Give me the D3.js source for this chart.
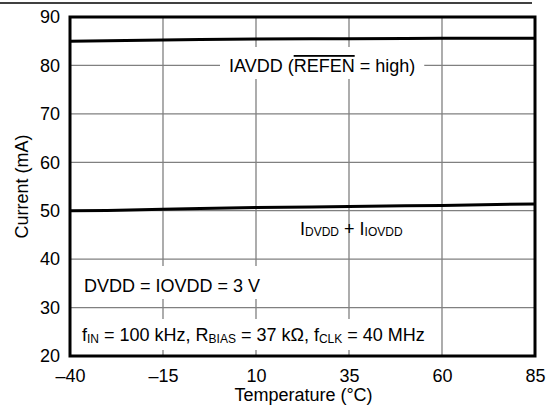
<!DOCTYPE html>
<html><head><meta charset="utf-8">
<script src="https://cdn.jsdelivr.net/npm/d3@7/dist/d3.min.js"></script>
<style>body{margin:0;background:#fff}svg{display:block;font-family:"Liberation Sans",Arial,sans-serif}</style>
</head><body>
<svg id="c" width="550" height="413"></svg>
<script>
const temps = [-40, -30, -15, -5, 10, 25, 35, 50, 60, 85];
const iavdd = [85.0, 85.1, 85.25, 85.35, 85.45, 85.5, 85.5, 85.55, 85.6, 85.6];
const idvdd = [50.0, 50.05, 50.3, 50.45, 50.65, 50.75, 50.85, 51.0, 51.1, 51.4];
const xTicks = [-40, -15, 10, 35, 60, 85];
const yTicks = [20, 30, 40, 50, 60, 70, 80, 90];
const xTitle = "Temperature (°C)";
const yTitle = "Current (mA)";

const svg = d3.select("#c");
const L = 70, R = 535, T = 17, B = 356;
const x = d3.scaleLinear().domain([-40, 85]).range([L, R]);
const y = d3.scaleLinear().domain([20, 90]).range([B, T]);
const fs = 18, sub = 12;

// top rule
svg.append("line").attr("x1", 0).attr("x2", 532).attr("y1", 3).attr("y2", 3)
  .attr("stroke", "#000").attr("stroke-width", 1.5);

// grid
const grid = svg.append("g");
grid.selectAll(".gx").data(xTicks.slice(1, -1)).join("line")
  .attr("x1", d => x(d)).attr("x2", d => x(d)).attr("y1", T).attr("y2", B)
  .attr("stroke", "#808080").attr("stroke-width", 1.3);
grid.selectAll(".gy").data(yTicks.slice(1, -1)).join("line")
  .attr("y1", d => y(d)).attr("y2", d => y(d)).attr("x1", L).attr("x2", R)
  .attr("stroke", "#808080").attr("stroke-width", 1.3);

// axes
const xAxis = d3.axisBottom(x).tickValues(xTicks).tickSize(0).tickPadding(13)
  .tickFormat(d => String(d).replace("-", "\u2013"));
const gx = svg.append("g").attr("transform", `translate(0,${B})`).call(xAxis);
const yAxis = d3.axisLeft(y).tickValues(yTicks).tickSize(0).tickPadding(10);
const gy = svg.append("g").attr("transform", `translate(${L},0)`).call(yAxis);
[gx, gy].forEach(g => {
  g.select(".domain").remove();
  g.selectAll("text").attr("font-size", fs).attr("fill", "#000")
    .attr("font-family", "Liberation Sans, Arial, sans-serif");
});

svg.append("text").attr("x", (L + R) / 2 + 1).attr("y", 401).attr("text-anchor", "middle")
  .attr("font-size", fs).text(xTitle);
svg.append("text").attr("transform", `translate(28,${(T + B) / 2}) rotate(-90)`)
  .attr("text-anchor", "middle").attr("font-size", fs).text(yTitle);

// labels with white boxes
const labels = svg.append("g");
function boxLabel(build, padX, padT, padB, boxX0) {
  const g = labels.append("g");
  const r = g.append("rect").attr("fill", "#fff");
  const t = g.append("text").attr("font-size", fs);
  build(t);
  const bb = t.node().getBBox();
  const x0 = boxX0 != null ? boxX0 : bb.x - padX;
  r.attr("x", x0).attr("y", bb.y - padT).attr("width", bb.x + bb.width + padX - x0)
    .attr("height", bb.height + padT + padB);
  return t;
}

boxLabel(t => {
  t.attr("x", 229).attr("y", 72);
  t.append("tspan").text("IAVDD (");
  t.append("tspan").style("text-decoration", "overline").text("REFEN");
  t.append("tspan").text(" = high)");
}, 9, 9, 3);

boxLabel(t => {
  t.attr("x", 84).attr("y", 292).text("DVDD = IOVDD = 3 V");
}, 8, 10, 3, L + 2);

boxLabel(t => {
  t.attr("x", 82).attr("y", 341);
  t.append("tspan").text("f");
  t.append("tspan").attr("font-size", sub).attr("dy", 2).text("IN");
  t.append("tspan").attr("dy", -2).text(" = 100 kHz, R");
  t.append("tspan").attr("font-size", sub).attr("dy", 2).text("BIAS");
  t.append("tspan").attr("dy", -2).text(" = 37 k\u03A9, f");
  t.append("tspan").attr("font-size", sub).attr("dy", 2).text("CLK");
  t.append("tspan").attr("dy", -2).text(" = 40 MHz");
}, 8, 6, 4, L + 2);

// plain label
const t2 = svg.append("text").attr("x", 300).attr("y", 235).attr("font-size", fs);
t2.append("tspan").text("I");
t2.append("tspan").attr("font-size", sub).attr("dy", 1).text("DVDD");
t2.append("tspan").attr("dy", -1).text(" + I");
t2.append("tspan").attr("font-size", sub).attr("dy", 1).text("IOVDD");

// data lines
const line = d3.line().x(d => x(d[0])).y(d => y(d[1]));
[iavdd, idvdd].forEach(s => {
  svg.append("path").datum(temps.map((t, i) => [t, s[i]])).attr("d", line)
    .attr("fill", "none").attr("stroke", "#000").attr("stroke-width", 3);
});

// frame
svg.append("rect").attr("x", L).attr("y", T).attr("width", R - L).attr("height", B - T)
  .attr("fill", "none").attr("stroke", "#000").attr("stroke-width", 3);
</script>
</body></html>
